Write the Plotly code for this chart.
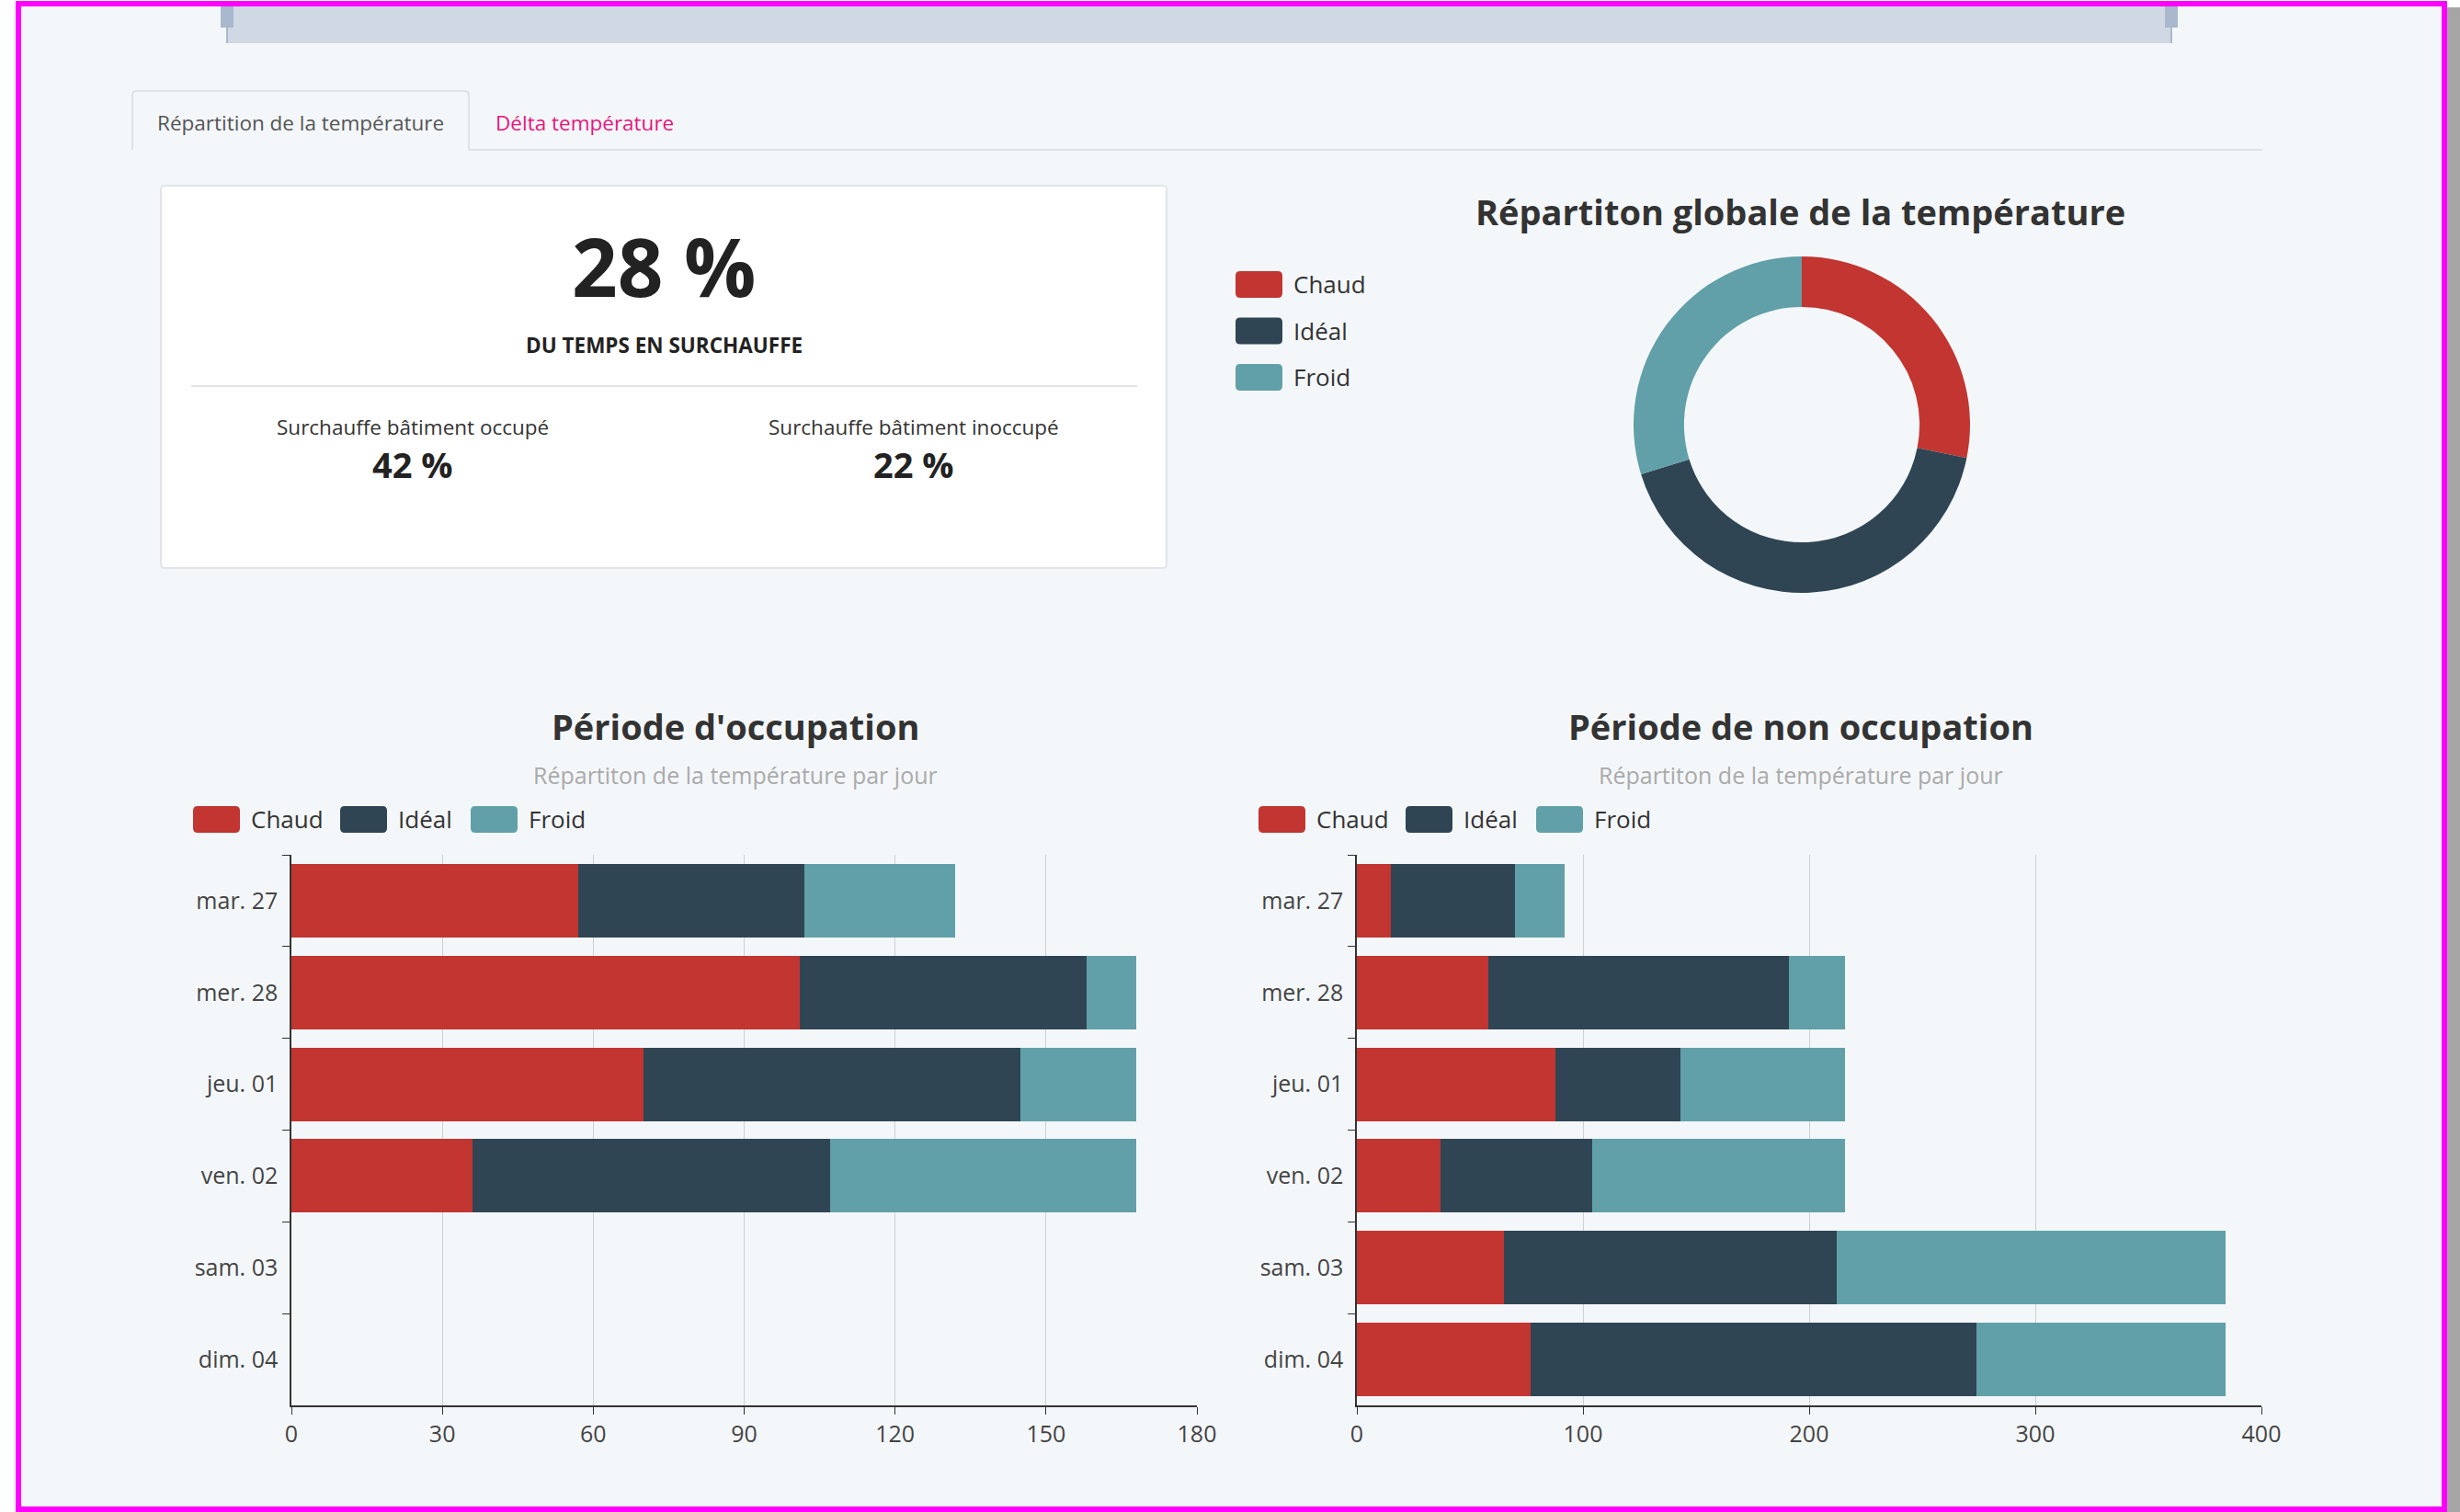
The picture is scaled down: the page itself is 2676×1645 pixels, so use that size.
# Répartition de la température - tableau de bord (reprise en plotly)

import plotly.graph_objects as go

W, H = 2676, 1645

# --- data ---
categories = ["Chaud", "Idéal", "Froid"]
colors = ["#c23531", "#2f4554", "#61a0a8"]
days = ["mar. 27", "mer. 28", "jeu. 01", "ven. 02", "sam. 03", "dim. 04"]

occ_chaud = [57, 101, 70, 36, None, None]
occ_ideal = [45, 57, 75, 71, None, None]
occ_froid = [30, 10, 23, 61, None, None]

inocc_chaud = [15, 58, 88, 37, 65, 77]
inocc_ideal = [55, 133, 55, 67, 147, 197]
inocc_froid = [22, 25, 73, 112, 172, 110]

global_vals = [604, 902, 638]

kpi_total = "28 %"
kpi_occ = "42 %"
kpi_inocc = "22 %"

FONT = "Open Sans"


def px(x):
    return x / W


def py(y):
    return 1 - y / H


def rrect(x0, y0, x1, y1, r):
    # rounded rectangle path in paper coordinates (pixel inputs)
    rx, ry = r / W, r / H
    a, b, c, d = px(x0), py(y0), px(x1), py(y1)
    return (f"M{a+rx},{b} L{c-rx},{b} Q{c},{b} {c},{b-ry} "
            f"L{c},{d+ry} Q{c},{d} {c-rx},{d} L{a+rx},{d} "
            f"Q{a},{d} {a},{d+ry} L{a},{b-ry} Q{a},{b} {a+rx},{b} Z")


fig = go.Figure()

# bars
for name, col, vals in zip(categories, colors, [occ_chaud, occ_ideal, occ_froid]):
    fig.add_trace(go.Bar(y=days, x=vals, name=name, orientation="h",
                         marker=dict(color=col, line=dict(width=0)),
                         xaxis="x", yaxis="y", showlegend=False))
for name, col, vals in zip(categories, colors, [inocc_chaud, inocc_ideal, inocc_froid]):
    fig.add_trace(go.Bar(y=days, x=vals, name=name, orientation="h",
                         marker=dict(color=col, line=dict(width=0)),
                         xaxis="x2", yaxis="y2", showlegend=False))

# donut
cx, cy, rad = 1960, 462, 183
fig.add_trace(go.Pie(labels=categories, values=global_vals, hole=0.7, sort=False,
                     direction="clockwise", rotation=0, textinfo="none",
                     marker=dict(colors=colors, line=dict(width=0)),
                     domain=dict(x=[px(cx - rad), px(cx + rad)], y=[py(cy + rad), py(cy - rad)]),
                     showlegend=False))

xax = dict(showgrid=True, gridcolor="#cfcfcf", gridwidth=1, zeroline=False, automargin=False,
           showline=True, linecolor="#333", linewidth=2, ticks="outside", ticklen=8,
           tickcolor="#333", tickfont=dict(family=FONT, size=25, color="#444"))
yax = dict(type="category", categoryorder="array", categoryarray=days, range=[5.5, -0.5],
           showgrid=False, zeroline=False, showline=True, linecolor="#333", linewidth=1.5,
           ticks="outside", tickson="boundaries", ticklen=8, tickcolor="#333", automargin=False,
           ticklabelstandoff=8, tickfont=dict(family=FONT, size=25, color="#444"))

fig.update_layout(
    width=W, height=H, autosize=False,
    margin=dict(l=0, r=0, t=0, b=0, pad=0),
    paper_bgcolor="white", plot_bgcolor="rgba(0,0,0,0)",
    barmode="stack", bargap=0.2,
    font=dict(family=FONT, color="#333"),
    xaxis=dict(xax, domain=[px(317), px(1302)], range=[0, 180], dtick=30, anchor="y"),
    yaxis=dict(yax, domain=[py(1529), py(930)], anchor="x"),
    xaxis2=dict(xax, domain=[px(1476), px(2460)], range=[0, 400], dtick=100, anchor="y2"),
    yaxis2=dict(yax, domain=[py(1529), py(930)], anchor="x2"),
)

shapes = []
ann = []

# page background and frame
shapes.append(dict(type="rect", xref="paper", yref="paper", x0=px(20), x1=px(2659),
                   y0=py(1642), y1=py(4), fillcolor="#f4f7fa", line=dict(width=0), layer="below"))
shapes.append(dict(type="rect", xref="paper", yref="paper", x0=px(2662), x1=1,
                   y0=0, y1=py(8), fillcolor="#a6a6a6", line=dict(width=0), layer="below"))

# data zoom strip at the top
shapes.append(dict(type="rect", xref="paper", yref="paper", x0=px(247), x1=px(2362),
                   y0=py(47), y1=py(6), fillcolor="#d0d8e3", line=dict(width=0), layer="below"))
for hx in (247, 2362):
    shapes.append(dict(type="rect", xref="paper", yref="paper", x0=px(hx - 7), x1=px(hx + 7),
                       y0=py(30), y1=py(6), fillcolor="#a9b8cc", line=dict(width=0), layer="below"))
    shapes.append(dict(type="line", xref="paper", yref="paper", x0=px(hx), x1=px(hx),
                       y0=py(47), y1=py(30), line=dict(color="#a9b8cc", width=2), layer="below"))

# tabs
shapes.append(dict(type="path", xref="paper", yref="paper",
                   path=(f"M{px(144)},{py(163)} L{px(144)},{py(104)} Q{px(144)},{py(99)} {px(149)},{py(99)} "
                         f"L{px(505)},{py(99)} Q{px(510)},{py(99)} {px(510)},{py(104)} L{px(510)},{py(163)}"),
                   line=dict(color="#dde2e8", width=2), layer="below"))
shapes.append(dict(type="line", xref="paper", yref="paper", x0=px(510), x1=px(2461),
                   y0=py(163), y1=py(163), line=dict(color="#dde2e8", width=2), layer="below"))
ann.append(dict(text="Répartition de la température", x=px(327), y=py(133),
                font=dict(size=22.5, color="#555")))
ann.append(dict(text="Délta température", x=px(636), y=py(133),
                font=dict(size=22.5, color="#e8147e")))

# KPI card
shapes.append(dict(type="path", xref="paper", yref="paper", path=rrect(175, 202, 1269, 618, 4),
                   fillcolor="white", line=dict(color="#e1e5ea", width=2), layer="below"))
shapes.append(dict(type="line", xref="paper", yref="paper", x0=px(208), x1=px(1237),
                   y0=py(420), y1=py(420), line=dict(color="#e3e3e3", width=2), layer="below"))
ann.append(dict(text=f"<b>{kpi_total}</b>", x=px(722), y=py(289), font=dict(size=87, color="#222")))
ann.append(dict(text="<b>DU TEMPS EN SURCHAUFFE</b>", x=px(722), y=py(376), font=dict(size=22.5, color="#222")))
ann.append(dict(text="Surchauffe bâtiment occupé", x=px(449), y=py(464), font=dict(size=22.5, color="#333")))
ann.append(dict(text=f"<b>{kpi_occ}</b>", x=px(449), y=py(505), font=dict(size=38, color="#222")))
ann.append(dict(text="Surchauffe bâtiment inoccupé", x=px(994), y=py(464), font=dict(size=22.5, color="#333")))
ann.append(dict(text=f"<b>{kpi_inocc}</b>", x=px(994), y=py(505), font=dict(size=38, color="#222")))

# titles
ann.append(dict(text="<b>Répartiton globale de la température</b>", x=px(1959), y=py(230),
                font=dict(size=38, color="#333")))
ann.append(dict(text="<b>Période d'occupation</b>", x=px(800), y=py(790), font=dict(size=38, color="#333")))
ann.append(dict(text="Répartiton de la température par jour", x=px(800), y=py(843),
                font=dict(size=25, color="#aaa")))
ann.append(dict(text="<b>Période de non occupation</b>", x=px(1959), y=py(790), font=dict(size=38, color="#333")))
ann.append(dict(text="Répartiton de la température par jour", x=px(1959), y=py(843),
                font=dict(size=25, color="#aaa")))


# legends (swatch + label)
def legend_item(x, y, label, col):
    shapes.append(dict(type="path", xref="paper", yref="paper", path=rrect(x, y - 14, x + 51, y + 15, 5),
                       fillcolor=col, line=dict(width=0), layer="above"))
    ann.append(dict(text=label, x=px(x + 61), y=py(y), xanchor="left", font=dict(size=26, color="#333")))


for i, (name, col) in enumerate(zip(categories, colors)):
    legend_item(1344, 309 + i * 50.5, name, col)
for (name, col, lx) in zip(categories, colors, [210, 370, 512]):
    legend_item(lx, 891, name, col)
for (name, col, lx) in zip(categories, colors, [1369, 1529, 1671]):
    legend_item(lx, 891, name, col)

# magenta frame on top
shapes.append(dict(type="rect", xref="paper", yref="paper", x0=px(20), x1=px(2659),
                   y0=py(1642), y1=py(4), line=dict(color="#ff00ff", width=6), layer="above"))

for a in ann:
    a.setdefault("xref", "paper")
    a.setdefault("yref", "paper")
    a.setdefault("showarrow", False)
    a.setdefault("xanchor", "center")
    a.setdefault("yanchor", "middle")
    a["font"].setdefault("family", FONT)

fig.update_layout(shapes=shapes, annotations=ann)

fig.write_html("out.html", config={"displayModeBar": False},
               post_script="document.body.style.margin='0';document.body.style.overflow='hidden';"
                           "document.documentElement.style.overflow='hidden';")
